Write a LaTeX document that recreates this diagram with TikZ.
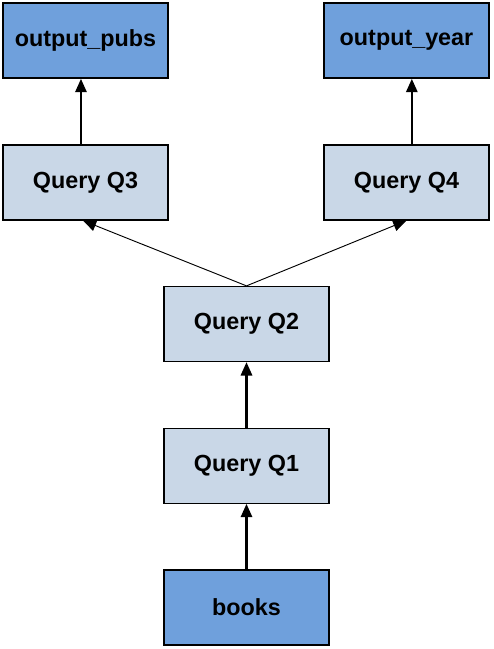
\documentclass[tikz,border=0pt]{standalone}
\usepackage{fontspec}
\setmainfont{Liberation Sans}
\usepackage{xcolor}
\usetikzlibrary{arrows.meta,positioning}

\definecolor{datablue}{HTML}{6FA0DC}
\definecolor{queryblue}{HTML}{C9D7E7}

\begin{document}
\begin{tikzpicture}[
  % --- global style ---
  >={Triangle[length=10pt,width=8.5pt]},
  node distance=49pt,
  every node/.style={font=\fontsize{17.5}{20}\selectfont\bfseries},
  box/.style={
    draw, line width=1.2pt, minimum width=123.75pt, minimum height=56.25pt,
    text centered, inner sep=2pt
  },
  databox/.style={box, fill=datablue},
  querybox/.style={box, fill=queryblue, line width=1pt},
  arr/.style={->, line width=1.6pt},
  thinarr/.style={->, line width=0.7pt},
]

\useasboundingbox (0,0) rectangle (369.75pt,-486.75pt);

% ====== Main chain (centred) ======
\node[databox] (books) at (184.875pt,-455.625pt) {books};
\node[querybox, above=of books] (q1) {Query Q1};
\node[querybox, above=of q1] (q2) {Query Q2};

% --- two branches ---
\node[querybox, above=of q2, xshift=-120.75pt] (q3) {Query Q3};
\node[querybox, above=of q2, xshift=120pt] (q4) {Query Q4};

% --- outputs ---
\node[databox, above=of q3] (pubs) {output\_pubs};
\node[databox, above=of q4] (year) {output\_year};

% ====== Arrows ======
\draw[arr] (books) -- (q1);
\draw[arr] (q1) -- (q2);
\draw[thinarr] (q2.north) -- ([xshift=-2pt]q3.south);
\draw[thinarr] (q2.north) -- (q4.south);
\draw[arr] ([xshift=-3.4pt]q3.north) -- ([xshift=-3.4pt]pubs.south);
\draw[arr] ([xshift=4pt]q4.north) -- ([xshift=4pt]year.south);

\end{tikzpicture}
\end{document}
